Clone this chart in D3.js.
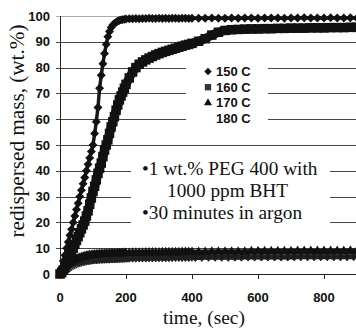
<!DOCTYPE html>
<html>
<head>
<meta charset="utf-8">
<script src="https://cdn.jsdelivr.net/npm/d3@7"></script>
<style>
  body { margin: 0; background: #fff; }
  svg { display: block; }
  .tick-label { font-family: "Liberation Sans", Arial, sans-serif; font-weight: bold; font-size: 13px; fill: #111; }
  .serif { font-family: "Liberation Serif", "Times New Roman", serif; fill: #111; }
</style>
</head>
<body>
<svg width="356" height="329"></svg>
<script>
// sample times (sec)
var times = [0, 5, 10, 15, 20, 25, 30, 35, 40, 45, 50, 55, 60, 65, 70, 75, 80, 85, 90, 95, 100,
  105, 110, 115, 120, 125, 130, 135, 140, 145, 150, 155, 160, 165, 170, 175, 180, 185, 190, 195, 200,
  210, 220, 230, 240, 250, 260, 270, 280, 290, 300, 310, 320, 330, 340, 350, 360, 370, 380, 390, 400,
  420, 440, 460, 480, 500, 520, 540, 560, 580, 600, 620, 640, 660, 680, 700, 720, 740, 760, 780, 800,
  820, 840, 860, 880, 900];

// redispersed mass (wt.%) per temperature
var temp150 = [0, 2.4, 5, 7.3, 10, 12.4, 15, 17.3, 20, 22.5, 25, 27.4, 30, 32.5, 35, 37.4, 40, 42.5, 45, 47.5, 50,
  54.5, 59, 64.5, 72, 77, 81.5, 85.5, 89, 92, 94, 95.5, 96.5, 97.1, 97.6, 98, 98.3, 98.5, 98.6, 98.7, 98.8,
  98.9, 98.9, 99, 98.9, 99, 99, 99.1, 99, 99, 99.1, 99, 99.1, 99, 99.1, 99.1, 99, 99.1, 99.1, 99, 99.1,
  99.1, 99.1, 99.2, 99.1, 99.1, 99.2, 99.1, 99.2, 99.2, 99.1, 99.2, 99.2, 99.2, 99.1, 99.2, 99.2, 99.3, 99.2, 99.2, 99.2,
  99.3, 99.2, 99.2, 99.3, 99.2];
var temp160 = [0, 0.5, 1.5, 2.5, 4, 5.5, 7, 8.5, 10, 11.5, 13, 14.5, 16, 17.5, 19, 20.5, 22.5, 24.5, 27, 29.5, 32,
  34, 36.5, 39, 41, 43, 45.5, 48, 50, 52, 54.5, 57, 59, 61, 63.5, 65.5, 67.5, 69, 70.5, 72, 73.5,
  76, 78.3, 80, 81.3, 82.2, 83, 83.7, 84.3, 84.9, 85.4, 85.9, 86.3, 86.7, 87.1, 87.5, 87.9, 88.3, 88.7, 89, 89.4,
  90.2, 91.2, 92.6, 93.7, 94.4, 94.7, 94.8, 94.9, 95, 95, 95.1, 95.1, 95.2, 95.2, 95.3, 95.3, 95.3, 95.4, 95.4, 95.4,
  95.5, 95.5, 95.5, 95.6, 95.6];
var temp170 = [0, 1, 1.8, 2.6, 3.2, 3.8, 4.3, 4.7, 5.1, 5.4, 5.7, 6, 6.2, 6.4, 6.6, 6.8, 7, 7.1, 7.2, 7.3, 7.4,
  7.5, 7.5, 7.6, 7.6, 7.7, 7.7, 7.7, 7.8, 7.8, 7.8, 7.9, 7.9, 7.9, 7.9, 8, 8, 8, 8, 8.1, 8.1,
  8.1, 8.2, 8.2, 8.2, 8.2, 8.3, 8.3, 8.3, 8.3, 8.3, 8.4, 8.4, 8.4, 8.4, 8.4, 8.4, 8.5, 8.5, 8.5, 8.5,
  8.5, 8.5, 8.6, 8.6, 8.6, 8.6, 8.6, 8.6, 8.7, 8.7, 8.7, 8.7, 8.7, 8.7, 8.7, 8.8, 8.8, 8.8, 8.8, 8.8,
  8.8, 8.8, 8.8, 8.9, 8.9];
var temp180 = [0, 0.7, 1.3, 1.9, 2.4, 2.8, 3.2, 3.5, 3.8, 4.1, 4.3, 4.5, 4.7, 4.8, 5, 5.1, 5.2, 5.3, 5.4, 5.5, 5.5,
  5.6, 5.6, 5.7, 5.7, 5.7, 5.8, 5.8, 5.8, 5.9, 5.9, 5.9, 5.9, 6, 6, 6, 6, 6, 6.1, 6.1, 6.1,
  6.1, 6.1, 6.2, 6.2, 6.2, 6.2, 6.2, 6.3, 6.3, 6.3, 6.3, 6.3, 6.3, 6.4, 6.4, 6.4, 6.4, 6.4, 6.4, 6.4,
  6.4, 6.5, 6.5, 6.5, 6.5, 6.5, 6.5, 6.6, 6.6, 6.6, 6.6, 6.6, 6.6, 6.6, 6.6, 6.7, 6.7, 6.7, 6.7, 6.7,
  6.7, 6.7, 6.7, 6.7, 6.8];

var legendLabels = ["150 C", "160 C", "170 C", "180 C"];
var yTicks = [0, 10, 20, 30, 40, 50, 60, 70, 80, 90, 100];
var xTicks = [0, 200, 400, 600, 800];
var noteLines = ["\u20221 wt.% PEG 400 with", "1000 ppm BHT", "\u202230 minutes in argon"];

document.addEventListener('DOMContentLoaded', function() {
    var svg = d3.select("svg");

    // Scales
    var x = d3.scaleLinear().domain([0, 900]).range([60, 357]);
    var y = d3.scaleLinear().domain([0, 100]).range([274, 16]);

    // Gridlines
    svg.append("g")
    .selectAll("line")
    .data(yTicks.filter(function(d) { return d > 0; }))
    .enter().append("line")
        .attr("x1", 56).attr("x2", 356)
        .attr("y1", function(d) { return Math.round(y(d)) + 0.5; })
        .attr("y2", function(d) { return Math.round(y(d)) + 0.5; })
        .attr("stroke", function(d) { return d == 100 ? "#aaa" : "#444"; })
        .attr("stroke-width", 1);

    // white boxes behind legend and note
    svg.append("rect").attr("x", 186).attr("y", 55).attr("width", 82).attr("height", 76).attr("fill", "#fff");
    svg.append("rect").attr("x", 131).attr("y", 152).attr("width", 199).attr("height", 80).attr("fill", "#fff");

    // Axes
    svg.append("line").attr("x1", 60.5).attr("x2", 60.5).attr("y1", y(100)).attr("y2", y(0) + 0.5)
    .attr("stroke", "#222");
    svg.append("line").attr("x1", 56).attr("x2", 356).attr("y1", Math.round(y(0)) + 0.5).attr("y2", Math.round(y(0)) + 0.5)
    .attr("stroke", "#222");
    svg.append("g")
    .selectAll("line")
    .data(xTicks)
    .enter().append("line")
        .attr("x1", function(d) { return Math.round(x(d)) + 0.5; })
        .attr("x2", function(d) { return Math.round(x(d)) + 0.5; })
        .attr("y1", y(0)).attr("y2", y(0) + 5)
        .attr("stroke", "#222");

    svg.append("g")
    .selectAll("text")
    .data(yTicks)
    .enter().append("text")
        .attr("class", "tick-label")
        .attr("x", 50)
        .attr("y", function(d) { return y(d) + 4.5; })
        .attr("text-anchor", "end")
        .text(function(d) { return d; });

    svg.append("g")
    .selectAll("text")
    .data(xTicks)
    .enter().append("text")
        .attr("class", "tick-label")
        .attr("x", function(d) { return x(d); })
        .attr("y", 302)
        .attr("text-anchor", "middle")
        .text(function(d) { return d; });

    // Axis titles
    svg.append("text")
    .attr("class", "serif")
    .attr("x", 204).attr("y", 324)
    .attr("text-anchor", "middle")
    .style("font-size", "19.4px")
    .text("time, (sec)");
    svg.append("text")
    .attr("class", "serif")
    .attr("transform", "translate(24,131) rotate(-90)")
    .attr("text-anchor", "middle")
    .style("font-size", "20px")
    .attr("textLength", 213)
    .attr("lengthAdjust", "spacingAndGlyphs")
    .text("redispersed mass, (wt.%)");

    // Series
    var diamond = {
        draw: function(ctx, size) {
            var r = Math.sqrt(size / 2);
            ctx.moveTo(0, -r); ctx.lineTo(r, 0); ctx.lineTo(0, r); ctx.lineTo(-r, 0); ctx.closePath();
        }
    };
    var series = [
        { name: legendLabels[0], values: temp150, shape: diamond, size: 40, lw: 3.5, fill: "#111" },
        { name: legendLabels[1], values: temp160, shape: d3.symbolSquare, size: 90, lw: 9, fill: "#111" },
        { name: legendLabels[2], values: temp170, shape: d3.symbolTriangle, size: 42, lw: 5, fill: "#111" },
        { name: legendLabels[3], values: temp180, shape: d3.symbolTimes || d3.symbolCross, size: 40, lw: 5, fill: "none" }
    ];
    var line = d3.line()
    .x(function(d) { return x(d[0]); })
    .y(function(d) { return y(d[1]); });

    series.slice().reverse().forEach(function(s) {
        var pts = times.map(function(t, i) { return [t, s.values[i]]; });
        var g = svg.append("g");
        g.append("path")
        .attr("d", line(pts))
        .attr("fill", "none")
        .attr("stroke", "#1a1a1a")
        .attr("stroke-width", s.lw);
        g.selectAll("path.pt")
        .data(pts)
        .enter().append("path")
            .attr("class", "pt")
            .attr("transform", function(d) { return "translate(" + x(d[0]) + "," + y(d[1]) + ")"; })
            .attr("d", d3.symbol().type(s.shape).size(s.size))
            .attr("fill", s.fill)
            .attr("stroke", s.fill == "none" ? "#222" : null)
            .attr("stroke-width", 1.5);
    });

    // Legend
    var legend = svg.append("g").attr("transform", "translate(208,71.5)");
    legendLabels.forEach(function(label, i) {
        var row = legend.append("g").attr("transform", "translate(0," + (i * 15.7) + ")");
        if (i < 3) {
            row.append("path")
            .attr("d", d3.symbol().type(series[i].shape).size(i == 1 ? 40 : 28))
            .attr("fill", i == 1 ? "#333" : "#111");
        }
        row.append("text")
        .attr("class", "tick-label")
        .attr("x", 8).attr("y", 4.5)
        .text(label);
    });

    // Note
    svg.append("g")
    .selectAll("text")
    .data(noteLines)
    .enter().append("text")
        .attr("class", "serif")
        .attr("x", function(d, i) { return i == 1 ? 167 : 142; })
        .attr("y", function(d, i) { return 175 + i * 22; })
        .style("font-size", "19.3px")
        .text(function(d) { return d; });
});
</script>
</body>
</html>
